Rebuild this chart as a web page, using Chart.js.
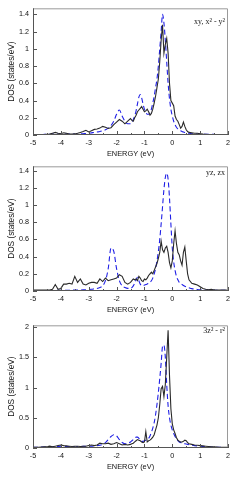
<!DOCTYPE html>
<html><head><meta charset="utf-8">
<script src="https://cdn.jsdelivr.net/npm/chart.js@4"></script>
<style>
html,body{margin:0;padding:0;background:#fff;width:241px;height:479px;overflow:hidden}
canvas{position:absolute;left:0}
</style></head><body>
<canvas id="c1" width="241" height="161" style="top:0px"></canvas>
<canvas id="c2" width="241" height="159" style="top:158px"></canvas>
<canvas id="c3" width="241" height="157" style="top:317px"></canvas>
<script>
// Energy grid (eV)
const ENERGY = [
 -5,-4.9,-4.8,-4.7,-4.6,-4.5,-4.4,-4.3,-4.2,-4.1,
 -4,-3.9,-3.8,-3.7,-3.6,-3.5,-3.4,-3.3,-3.2,-3.1,
 -3,-2.9,-2.8,-2.7,-2.6,-2.5,-2.4,-2.3,-2.2,-2.1,
 -2,-1.9,-1.8,-1.7,-1.6,
 -1.5,-1.45,-1.4,-1.35,-1.3,-1.25,-1.2,-1.15,-1.1,-1.05,
 -1,-0.95,-0.9,-0.85,-0.8,-0.75,-0.7,-0.65,-0.6,-0.55,
 -0.5,-0.45,-0.4,-0.35,-0.3,-0.25,-0.2,-0.15,-0.1,-0.05,
 0,0.05,0.1,0.15,0.2,0.25,0.3,0.35,0.4,0.45,
 0.5,0.55,0.6,
 0.7,0.8,0.9,1,1.1,1.2,1.3,1.4,1.5,1.6,1.7,1.8,1.9,2];

const X_TICKS = [-5,-4,-3,-2,-1,0,1,2];
const Y1_TICKS = [0,0.2,0.4,0.6,0.8,1,1.2,1.4];
const Y2_TICKS = [0,0.2,0.4,0.6,0.8,1,1.2,1.4];
const Y3_TICKS = [0,0.5,1,1.5,2];
const LABELS = ['xy, x\u00b2 - y\u00b2', 'yz, zx', '3z\u00b2 - r\u00b2'];

// Panel 1: xy, x2-y2
const xy_black = [
 0.005,0.005,0.005,0.005,0.005,0.008,0.01,0.02,0.03,0.02,
 0.015,0.025,0.02,0.01,0.01,0.015,0.02,0.03,0.04,0.055,
 0.035,0.05,0.065,0.07,0.08,0.1,0.09,0.075,0.085,0.12,
 0.15,0.18,0.16,0.13,0.16,
 0.19,0.17,0.16,0.2,0.23,0.27,0.29,0.31,0.33,0.3,
 0.27,0.28,0.3,0.27,0.23,0.25,0.3,0.37,0.45,0.55,
 0.65,0.85,1.1,1.28,0.95,1.05,1.12,0.95,0.6,0.4,
 0.37,0.34,0.22,0.18,0.16,0.12,0.08,0.1,0.15,0.1,
 0.06,0.04,0.03,
 0.025,0.02,0.02,0.015,0.01,0.008,0.006,0.005,0.005,0.004,0.004,0.003,0.003,0.003];
const xy_blue = [
 0.005,0.005,0.006,0.006,0.007,0.008,0.009,0.01,0.012,0.01,
 0.01,0.01,0.01,0.01,0.01,0.01,0.01,0.012,0.015,0.018,
 0.02,0.025,0.03,0.035,0.04,0.05,0.06,0.08,0.11,0.16,
 0.24,0.29,0.22,0.16,0.13,
 0.13,0.15,0.18,0.22,0.28,0.36,0.44,0.47,0.43,0.36,
 0.3,0.27,0.24,0.24,0.26,0.3,0.37,0.45,0.55,0.65,
 0.8,1.0,1.2,1.4,1.3,1.1,0.85,0.6,0.42,0.3,
 0.22,0.16,0.12,0.09,0.07,0.06,0.05,0.04,0.035,0.03,
 0.025,0.02,0.02,
 0.015,0.012,0.01,0.01,0.01,0.009,0.008,0.008,0.007,0.006,0.006,0.005,0.005,0.005];

// Panel 2: yz, zx
const yz_black = [
 0.01,0.01,0.01,0.01,0.01,0.01,0.012,0.02,0.075,0.02,
 0.03,0.08,0.08,0.09,0.08,0.17,0.1,0.14,0.08,0.07,
 0.09,0.1,0.1,0.09,0.14,0.11,0.15,0.12,0.13,0.14,
 0.15,0.19,0.17,0.1,0.08,
 0.1,0.12,0.14,0.13,0.14,0.12,0.17,0.15,0.12,0.11,
 0.14,0.13,0.15,0.18,0.2,0.22,0.2,0.24,0.28,0.32,
 0.38,0.45,0.58,0.48,0.45,0.5,0.52,0.45,0.33,0.27,
 0.35,0.55,0.7,0.55,0.45,0.42,0.35,0.3,0.45,0.51,
 0.35,0.2,0.13,
 0.09,0.08,0.07,0.05,0.03,0.02,0.015,0.02,0.01,0.01,0.012,0.01,0.01,0.008];
const yz_blue = [
 0.005,0.005,0.005,0.005,0.005,0.005,0.006,0.006,0.007,0.007,
 0.008,0.008,0.009,0.009,0.01,0.01,0.011,0.012,0.013,0.015,
 0.017,0.02,0.025,0.03,0.04,0.06,0.12,0.26,0.5,0.46,
 0.26,0.12,0.06,0.04,0.03,
 0.03,0.04,0.06,0.09,0.13,0.16,0.12,0.08,0.065,0.06,
 0.07,0.075,0.08,0.09,0.1,0.12,0.15,0.2,0.26,0.35,
 0.46,0.6,0.78,0.98,1.18,1.32,1.37,1.3,1.08,0.78,
 0.5,0.34,0.24,0.17,0.13,0.1,0.085,0.075,0.065,0.055,
 0.048,0.042,0.037,
 0.028,0.022,0.018,0.015,0.013,0.012,0.011,0.01,0.01,0.009,0.009,0.008,0.008,0.008];

// Panel 3: 3z2-r2
const z2_black = [
 0.01,0.01,0.01,0.015,0.02,0.02,0.03,0.02,0.03,0.04,
 0.05,0.04,0.035,0.03,0.025,0.03,0.03,0.025,0.03,0.03,
 0.04,0.05,0.04,0.05,0.08,0.07,0.07,0.08,0.06,0.07,
 0.09,0.07,0.05,0.06,0.05,
 0.06,0.07,0.08,0.1,0.12,0.14,0.13,0.12,0.1,0.09,
 0.1,0.27,0.1,0.12,0.13,0.15,0.18,0.22,0.3,0.38,
 0.5,0.72,0.98,1.02,0.85,1.05,1.5,1.95,1.2,0.65,
 0.4,0.3,0.24,0.17,0.13,0.11,0.1,0.1,0.11,0.13,
 0.12,0.09,0.07,
 0.06,0.05,0.045,0.04,0.035,0.03,0.025,0.02,0.018,0.015,0.013,0.012,0.01,0.01];
const z2_blue = [
 0.01,0.01,0.012,0.014,0.016,0.018,0.02,0.02,0.02,0.025,
 0.03,0.028,0.025,0.022,0.02,0.02,0.022,0.025,0.028,0.03,
 0.03,0.03,0.035,0.04,0.045,0.06,0.09,0.14,0.19,0.22,
 0.2,0.14,0.09,0.07,0.08,
 0.1,0.12,0.14,0.16,0.18,0.18,0.16,0.13,0.11,0.11,
 0.12,0.13,0.14,0.16,0.2,0.26,0.33,0.42,0.55,0.72,
 0.92,1.15,1.4,1.68,1.7,1.5,1.05,0.7,0.5,0.38,
 0.3,0.24,0.19,0.15,0.12,0.1,0.09,0.08,0.075,0.07,
 0.065,0.06,0.055,
 0.045,0.04,0.035,0.03,0.025,0.02,0.018,0.015,0.012,0.011,0.01,0.009,0.008,0.008];

const framePlugin = {
  id: 'frame',
  afterDatasetsDraw(chart, args, opts) {
    const {ctx, chartArea: a, scales} = chart;
    ctx.save();
    ctx.strokeStyle = '#9a9a9a';
    ctx.lineWidth = 1;
    ctx.beginPath();
    ctx.moveTo(a.left, a.top + 0.5); ctx.lineTo(a.right - 0.5, a.top + 0.5); ctx.lineTo(a.right - 0.5, a.bottom);
    ctx.stroke();
    ctx.strokeStyle = '#555';
    ctx.beginPath();
    ctx.moveTo(a.left + 0.5, a.top); ctx.lineTo(a.left + 0.5, a.bottom - 0.5); ctx.lineTo(a.right, a.bottom - 0.5);
    ctx.stroke();
    ctx.beginPath();
    for (let v = X_TICKS[0]; v <= X_TICKS[X_TICKS.length - 1] + 1e-9; v += 0.5) {
      const x = Math.round(scales.x.getPixelForValue(v)) + 0.5;
      const major = Math.abs(v - Math.round(v)) < 1e-6;
      ctx.moveTo(x, a.bottom); ctx.lineTo(x, a.bottom - (major ? 4 : 2));
    }
    for (const v of opts.yticks) {
      const y = Math.round(scales.y.getPixelForValue(v)) + 0.5;
      ctx.moveTo(a.left, y); ctx.lineTo(a.left + 4, y);
    }
    ctx.stroke();
    ctx.fillStyle = '#222';
    ctx.font = '8px "Liberation Serif", serif';
    ctx.textAlign = 'right';
    ctx.textBaseline = 'middle';
    ctx.fillText(opts.label, a.right - 3, a.top + opts.labelDy);
    ctx.restore();
  }
};

function pts(vals) { return ENERGY.map((e, i) => ({x: e, y: vals[i]})); }

function makeChart(id, black, blue, yticks, ymax, label, labelDy, xAxisH) {
  const tickFont = {family: '"Liberation Sans", Arial, sans-serif', size: 7.2};
  const xTitleFont = {family: '"Liberation Sans", Arial, sans-serif', size: 7.4};
  const yTitleFont = {family: '"Liberation Sans", Arial, sans-serif', size: 8.3};
  new Chart(document.getElementById(id), {
    type: 'line',
    data: {
      datasets: [
        {data: pts(black), borderColor: '#2a2a2a', borderWidth: 1.1, pointRadius: 0, tension: 0},
        {data: pts(blue), borderColor: '#1f1fe6', borderWidth: 1.1, borderDash: [5, 3], pointRadius: 0, cubicInterpolationMode: 'monotone'}
      ]
    },
    options: {
      responsive: false, animation: false, devicePixelRatio: 1,
      layout: {padding: {top: 5, right: 13, left: 0, bottom: 0}},
      plugins: {legend: {display: false}, tooltip: {enabled: false},
        frame: {yticks: yticks, label: label, labelDy: labelDy}},
      scales: {
        x: {
          type: 'linear', min: -5, max: 2,
          afterBuildTicks: s => { s.ticks = X_TICKS.map(v => ({value: v})); },
          afterFit: s => { s.height = xAxisH; },
          grid: {display: false, drawTicks: false},
          border: {display: false},
          ticks: {color: '#111', font: tickFont, padding: 3.5, maxRotation: 0, autoSkip: false, callback: v => String(v)},
          title: {display: true, text: 'ENERGY (eV)', color: '#111', font: xTitleFont, padding: {top: 0, bottom: 3}}
        },
        y: {
          type: 'linear', min: 0, max: ymax,
          afterBuildTicks: s => { s.ticks = yticks.map(v => ({value: v})); },
          afterFit: s => { s.width = 33; },
          grid: {display: false, drawTicks: false},
          border: {display: false},
          ticks: {color: '#111', font: tickFont, padding: 4, autoSkip: false, callback: v => String(v)},
          title: {display: true, text: 'DOS (states/eV)', color: '#111', font: yTitleFont, padding: {top: 7, bottom: 0}}
        }
      }
    },
    plugins: [framePlugin]
  });
}

makeChart('c1', xy_black, xy_blue, Y1_TICKS, 1.47, LABELS[0], 14, 26);
makeChart('c2', yz_black, yz_blue, Y2_TICKS, 1.45, LABELS[1], 7, 26);
makeChart('c3', z2_black, z2_blue, Y3_TICKS, 2.03, LABELS[2], 6, 26);
</script>
</body></html>
